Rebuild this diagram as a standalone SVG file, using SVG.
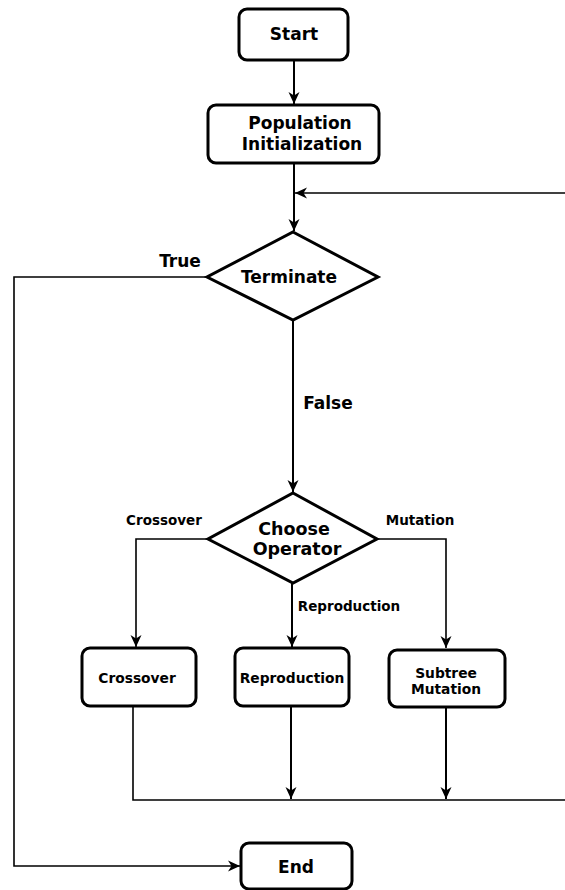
<svg xmlns="http://www.w3.org/2000/svg" width="565" height="890" viewBox="0 0 565 890">
<style>
.node{fill:#fff;stroke:#000;stroke-width:3}
.t{font-family:"DejaVu Sans","Verdana",sans-serif;font-weight:bold;fill:#000;text-anchor:middle}
.big{font-size:17px}
.sm{font-size:13.5px}
.c{fill:none;stroke:#000;stroke-width:2}
.thin{stroke-width:1.6}
</style>
<defs>
<marker id="ah" markerUnits="userSpaceOnUse" markerWidth="14" markerHeight="14" viewBox="0 0 14 14" refX="12" refY="7" orient="auto">
<path d="M0,1.5 L12,7 L0,12.5 L3.5,7 z" fill="#000"/>
</marker>
</defs>
<rect width="565" height="890" fill="#fff"/>
<g id="connectors">
<line class="c" x1="294" y1="60" x2="294" y2="104" marker-end="url(#ah)"/>
<line class="c" x1="294" y1="163" x2="294" y2="231" marker-end="url(#ah)"/>
<line class="c thin" x1="565" y1="193" x2="295" y2="193" marker-end="url(#ah)"/>
<polyline class="c thin" points="207,277 14,277 14,866 240,866" marker-end="url(#ah)"/>
<line class="c" x1="293" y1="320" x2="293" y2="492" marker-end="url(#ah)"/>
<polyline class="c thin" points="208,539 136,539 136,647" marker-end="url(#ah)"/>
<line class="c" x1="292" y1="583" x2="292" y2="647" marker-end="url(#ah)"/>
<polyline class="c thin" points="377,539 446,539 446,648" marker-end="url(#ah)"/>
<polyline class="c thin" points="133,706 133,800 565,800"/>
<line class="c" x1="291" y1="706" x2="291" y2="799" marker-end="url(#ah)"/>
<line class="c" x1="446" y1="707" x2="446" y2="799" marker-end="url(#ah)"/>
<text class="t big" x="180" y="267">True</text>
<text class="t big" x="328" y="409">False</text>
<text class="t sm" x="164" y="525">Crossover</text>
<text class="t sm" x="420" y="525">Mutation</text>
<text class="t sm" x="349" y="611">Reproduction</text>
</g>
<g id="start">
<rect class="node" x="239" y="9" width="109" height="51" rx="8"/>
<text class="t big" x="294" y="40">Start</text>
</g>
<g id="population">
<rect class="node" x="208" y="105" width="171" height="58" rx="8"/>
<text class="t big" x="300" y="129">Population</text>
<text class="t big" x="302" y="150">Initialization</text>
</g>
<g id="terminate">
<polygon class="node" points="293,232 378,277 293,320 207,277"/>
<text class="t big" x="289" y="283">Terminate</text>
</g>
<g id="choose">
<polygon class="node" points="293,493 377,539 293,583 208,539"/>
<text class="t" style="font-size:17.5px" x="294" y="535">Choose</text>
<text class="t" style="font-size:17.5px" x="297" y="555">Operator</text>
</g>
<g id="crossover">
<rect class="node" x="82" y="648" width="114" height="58" rx="8"/>
<text class="t sm" x="137" y="683" style="font-size:13.8px">Crossover</text>
</g>
<g id="reproduction">
<rect class="node" x="235" y="648" width="114" height="58" rx="8"/>
<text class="t sm" x="292" y="683" style="font-size:13.8px">Reproduction</text>
</g>
<g id="subtree">
<rect class="node" x="389" y="650" width="116" height="57" rx="8"/>
<text class="t sm" x="446" y="678" style="font-size:13.8px">Subtree</text>
<text class="t sm" x="446" y="694" style="font-size:13.8px">Mutation</text>
</g>
<g id="end">
<rect class="node" x="241" y="843" width="111" height="46" rx="8"/>
<text class="t big" x="296" y="873">End</text>
</g>
</svg>
